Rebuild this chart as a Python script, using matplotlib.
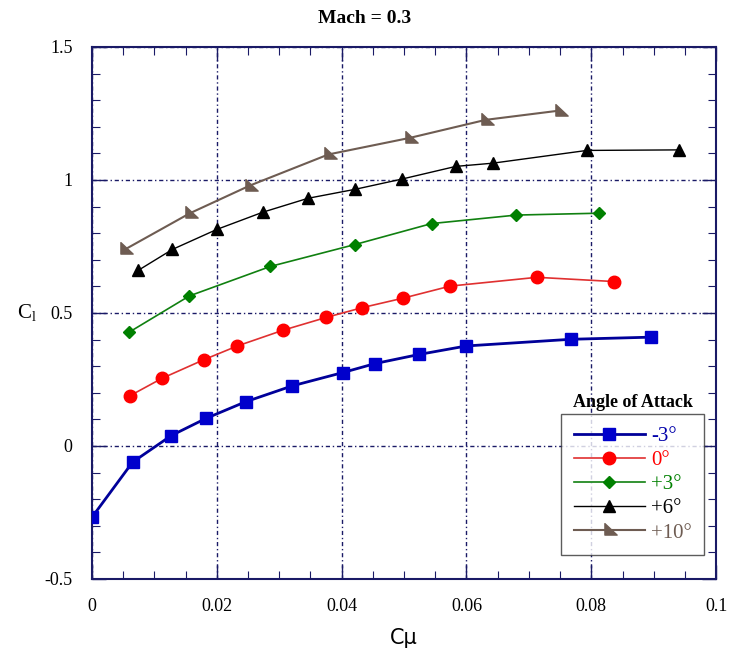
import matplotlib.pyplot as plt
from matplotlib.path import Path
from matplotlib.ticker import MultipleLocator

# data
cmu_m3 = [0.0, 0.0065, 0.0127, 0.0183, 0.0246, 0.0321, 0.0402, 0.0454, 0.0524, 0.0600, 0.0767, 0.0895]
cl_m3 = [-0.268, -0.061, 0.039, 0.104, 0.166, 0.226, 0.276, 0.310, 0.344, 0.376, 0.401, 0.409]

cmu_0 = [0.0061, 0.0112, 0.0179, 0.0233, 0.0306, 0.0375, 0.0433, 0.0499, 0.0574, 0.0713, 0.0837]
cl_0 = [0.189, 0.254, 0.324, 0.376, 0.435, 0.483, 0.520, 0.556, 0.601, 0.634, 0.618]

cmu_p3 = [0.0059, 0.0156, 0.0286, 0.0421, 0.0544, 0.0680, 0.0812]
cl_p3 = [0.427, 0.564, 0.675, 0.757, 0.836, 0.868, 0.875]

cmu_p6 = [0.0074, 0.0129, 0.0200, 0.0274, 0.0346, 0.0422, 0.0496, 0.0583, 0.0642, 0.0793, 0.0940]
cl_p6 = [0.660, 0.739, 0.814, 0.879, 0.931, 0.965, 1.003, 1.051, 1.063, 1.111, 1.113]

cmu_p10 = [0.0053, 0.0157, 0.0253, 0.0379, 0.0509, 0.0631, 0.0750]
cl_p10 = [0.739, 0.875, 0.979, 1.096, 1.158, 1.226, 1.261]

labels = ["-3°", "0°", "+3°", "+6°", "+10°"]

serif = "Liberation Serif"
navy = "#1a1a66"

# wedge shaped marker used for the +10 deg series
wedge = Path([(-0.6, 0.9), (1.0, -0.6), (-0.6, -0.6), (-0.6, 0.9)],
             [Path.MOVETO, Path.LINETO, Path.LINETO, Path.CLOSEPOLY])

fig = plt.figure(figsize=(7.3, 6.52), dpi=100)
ax = fig.add_axes([0.126, 0.112, 0.855, 0.816])

series = [
    (cmu_m3, cl_m3, dict(color="#000099", lw=2.0, marker="s", ms=9, mfc="#0000cc", mec="#0000cc")),
    (cmu_0, cl_0, dict(color="#e03030", lw=1.2, marker="o", ms=9, mfc="#ff0000", mec="#ff0000")),
    (cmu_p3, cl_p3, dict(color="#108010", lw=1.2, marker="D", ms=6, mfc="#008000", mec="#008000")),
    (cmu_p6, cl_p6, dict(color="black", lw=1.0, marker="^", ms=8, mfc="black", mec="black")),
    (cmu_p10, cl_p10, dict(color="#6e5c52", lw=1.5, marker=wedge, ms=11, mfc="#6e5c52", mec="#6e5c52")),
]
text_colors = ["#0000aa", "#ff0000", "#008000", "black", "#6e5c52"]

handles = []
for (x, y, kw), lab in zip(series, labels):
    h, = ax.plot(x, y, label=lab, zorder=3, **kw)
    handles.append(h)

ax.set_xlim(0, 0.1)
ax.set_ylim(-0.5, 1.5)
ax.xaxis.set_minor_locator(MultipleLocator(0.005))
ax.yaxis.set_minor_locator(MultipleLocator(0.1))
ax.set_xticks([0, 0.02, 0.04, 0.06, 0.08, 0.1])
ax.set_xticklabels(["0", "0.02", "0.04", "0.06", "0.08", "0.1"])
ax.set_yticks([-0.5, 0, 0.5, 1.0, 1.5])
ax.set_yticklabels(["-0.5", "0", "0.5", "1", "1.5"])

ax.tick_params(which="both", direction="in", top=True, right=True, color=navy)
ax.tick_params(which="major", length=10, width=1.0, labelsize=13, pad=14)
ax.tick_params(which="minor", length=6, width=0.8)
for lab in ax.get_xticklabels() + ax.get_yticklabels():
    lab.set_fontfamily(serif)
for sp in ax.spines.values():
    sp.set_color(navy)
    sp.set_linewidth(1.5)

ax.grid(True, which="major", color=navy, linestyle=(0, (3, 2, 1, 2)), linewidth=1.0)

fig.text(0.5, 0.972, "Mach = 0.3", ha="center", va="center",
         fontsize=14, fontweight="bold", family=serif)
ax.set_xlabel("Cμ", fontsize=15, family="DejaVu Sans", labelpad=9)
ax.text(-0.104, 0.5, "C$_\\mathregular{l}$", transform=ax.transAxes, fontsize=15,
        family=serif, ha="center", va="center")

leg = ax.legend(handles=handles, loc="lower right", bbox_to_anchor=(0.981, 0.045),
                borderaxespad=0, prop={"family": serif, "size": 15}, frameon=True,
                fancybox=False, edgecolor="#333333", handlelength=3.4,
                borderpad=0.6, labelspacing=0.22, handletextpad=0.3)
leg.get_frame().set_linewidth(1.0)
for t, c in zip(leg.get_texts(), text_colors):
    t.set_color(c)
ax.text(0.867, 0.331, "Angle of Attack", transform=ax.transAxes, ha="center",
        va="center", fontsize=13, fontweight="bold", family=serif)

fig.savefig("out.png", dpi=100)
